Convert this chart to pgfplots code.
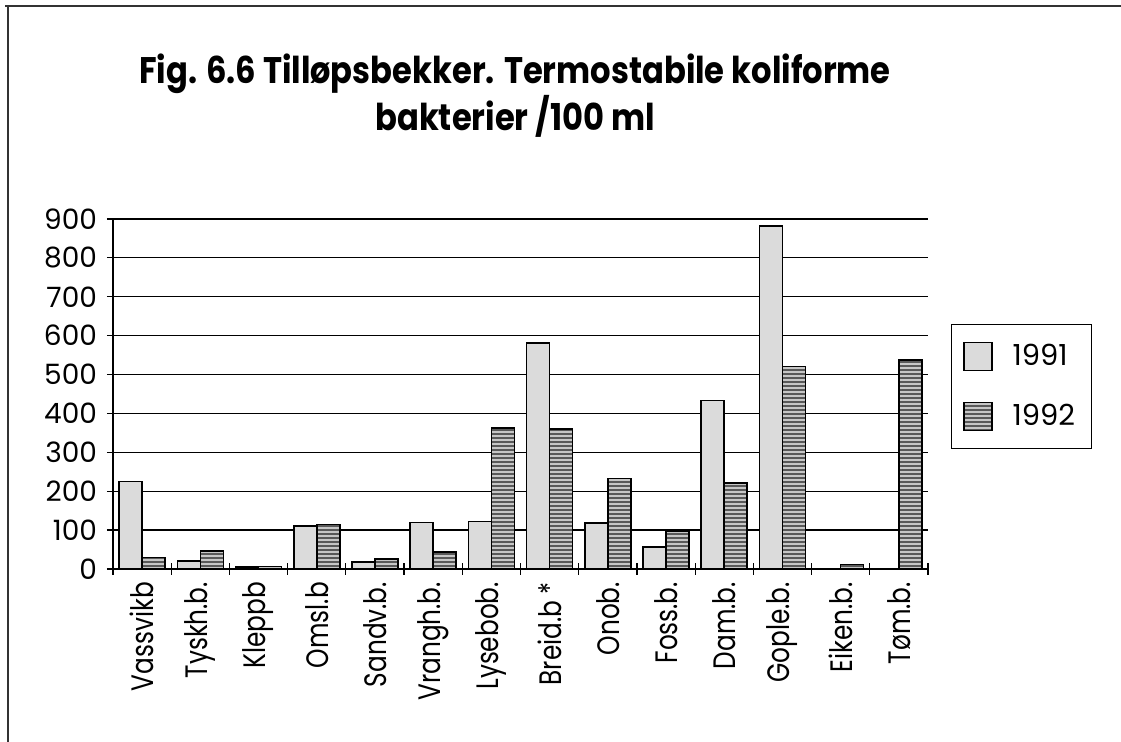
\documentclass[border=0pt]{standalone}
\usepackage{pgfplots}
\pgfplotsset{compat=1.18}
\usepackage{fontspec}
\setmainfont{Poppins}
\newfontfamily\narrowfont[FakeStretch=0.8]{Poppins}
\newfontfamily\titlefont[FakeStretch=0.87]{Poppins}
\usetikzlibrary{patterns.meta}
\begin{document}
\begin{tikzpicture}
\useasboundingbox (0,0) rectangle (560.5pt,371pt);
\draw[black!80,line width=0.7pt] (2.5pt,368pt) -- (560.5pt,368pt);
\draw[black!80,line width=0.7pt] (4pt,0pt) -- (4pt,368pt);
\node[anchor=base,font=\titlefont\bfseries\fontsize{18.5}{20}\selectfont] at (257.5pt,329pt) {Fig. 6.6 Tilløpsbekker. Termostabile koliforme};
\node[anchor=base,font=\titlefont\bfseries\fontsize{18.5}{20}\selectfont] at (257.5pt,305.5pt) {bakterier /100 ml};
\begin{axis}[
  at={(56.5pt,86.5pt)}, anchor=south west,
  scale only axis, width=407.5pt, height=175pt,
  ybar=0pt, bar width=0.395,
  xmin=-0.5, xmax=13.5, ymin=0, ymax=900,
  axis x line=bottom, axis y line=left,
  axis line style={-, black, line width=0.6pt},
  xtick={0,...,13},
  xticklabels={Vassvikb,Tyskh.b.,Kleppb,Omsl.b,Sandv.b.,Vrangh.b.,Lysebob.,Breid.b *,Onob.,Foss.b.,Dam.b.,Gople.b.,Eiken.b.,Tøm.b.},
  minor xtick={-0.5,0.5,...,13.5},
  major x tick style={draw=none},
  minor x tick style={black, line width=0.6pt},
  minor tick length=6pt,
  tick align=center,
  ytick={0,100,...,900},
  major tick length=6pt,
  y tick style={black, line width=0.6pt},
  ymajorgrids, grid style={black, line width=0.6pt},
  xticklabel style={rotate=90, anchor=east, font=\narrowfont\fontsize{15.5}{15.5}\selectfont},
  yticklabel style={font=\fontsize{14}{14}\selectfont, xshift=-1.5pt},
  /pgf/number format/assume math mode=true,
  legend style={at={(1.028,0.7)}, anchor=north west, draw=black, line width=0.6pt,
    font=\fontsize{14.5}{16}\selectfont, row sep=13.5pt, inner xsep=6pt, inner ysep=8pt,
    /tikz/every odd column/.append style={column sep=8pt}},
  legend cell align=left,
]
\addplot[draw=black, line width=0.8pt, fill=gray!28,
  legend image code/.code={\draw[draw=black,line width=0.6pt,fill=gray!28] (0pt,-7pt) rectangle (14pt,7pt);}]
  coordinates {(0,225) (1,20) (2,5) (3,111) (4,18) (5,120) (6,122) (7,581) (8,119) (9,57) (10,433) (11,882)};
\addplot[draw=black, line width=0.8pt, fill=gray!45,
  postaction={pattern={Lines[angle=0,distance=2pt,line width=0.6pt]}, pattern color=black!65},
  legend image code/.code={\draw[draw=black,line width=0.6pt,fill=gray!45,postaction={pattern={Lines[angle=0,distance=2pt,line width=0.6pt]}, pattern color=black!65}] (0pt,-7pt) rectangle (14pt,7pt);}]
  coordinates {(0,30) (1,46) (2,6) (3,114) (4,26) (5,44) (6,363) (7,360) (8,233) (9,96) (10,221) (11,521) (12,12) (13,538)};
\legend{1991,{1992\rule[-14pt]{0pt}{0pt}}}
\end{axis}
\end{tikzpicture}
\end{document}
